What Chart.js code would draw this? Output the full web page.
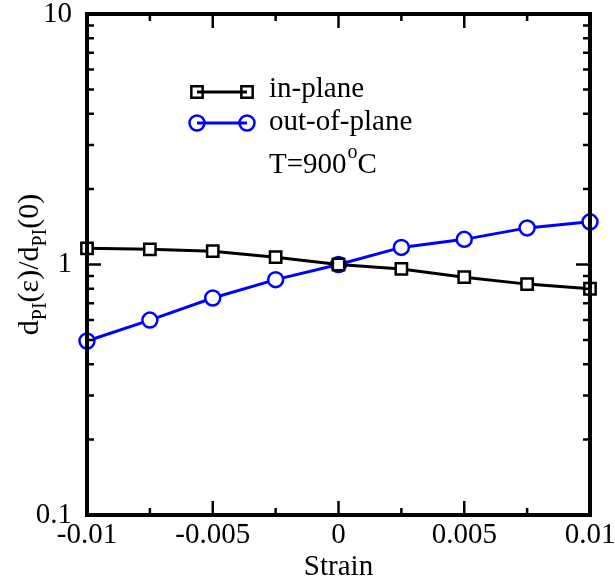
<!DOCTYPE html>
<html>
<head>
<meta charset="utf-8">
<script src="https://cdn.jsdelivr.net/npm/chart.js@4.4.1/dist/chart.umd.min.js"></script>
<style>
  html, body { margin: 0; padding: 0; background: #fff; }
  #graph { display: block; }
</style>
</head>
<body>
<canvas id="graph" width="615" height="579"></canvas>
<script>
var strain = [-0.01, -0.0075, -0.005, -0.0025, 0, 0.0025, 0.005, 0.0075, 0.01];
var inPlane = [1.16, 1.15, 1.13, 1.07, 1.0, 0.96, 0.89, 0.835, 0.80];
var outOfPlane = [0.495, 0.60, 0.735, 0.87, 1.0, 1.17, 1.26, 1.40, 1.48];

var xTickLabels = ["-0.01", "-0.005", "0", "0.005", "0.01"];
var xMajor = [-0.01, -0.005, 0, 0.005, 0.01];
var xMinor = [-0.0075, -0.0025, 0.0025, 0.0075];
var yTickLabels = ["0.1", "1", "10"];
var yMajor = [0.1, 1, 10];
var yMinor = [0.2, 0.3, 0.4, 0.5, 0.6, 0.7, 0.8, 0.9, 2, 3, 4, 5, 6, 7, 8, 9];

var serif = "'Liberation Serif', 'Times New Roman', serif";

function toPoints(ys) {
  return strain.map(function (x, i) { return { x: x, y: ys[i] }; });
}

// frame, inward ticks, labels and legend drawn straight on the canvas
var framePlugin = {
  id: "frame",
  afterDraw: function (chart) {
    var ctx = chart.ctx;
    var a = chart.chartArea;
    var xs = chart.scales.x;
    var ys = chart.scales.y;

    ctx.save();
    ctx.strokeStyle = "#000";
    ctx.lineWidth = 2.5;
    ctx.beginPath();
    yMajor.forEach(function (v) {
      var p = ys.getPixelForValue(v);
      ctx.moveTo(a.left, p); ctx.lineTo(a.left + 14, p);
      ctx.moveTo(a.right, p); ctx.lineTo(a.right - 14, p);
    });
    yMinor.forEach(function (v) {
      var p = ys.getPixelForValue(v);
      ctx.moveTo(a.left, p); ctx.lineTo(a.left + 7, p);
      ctx.moveTo(a.right, p); ctx.lineTo(a.right - 7, p);
    });
    xMajor.forEach(function (v) {
      var p = xs.getPixelForValue(v);
      ctx.moveTo(p, a.bottom); ctx.lineTo(p, a.bottom - 14);
      ctx.moveTo(p, a.top); ctx.lineTo(p, a.top + 14);
    });
    xMinor.forEach(function (v) {
      var p = xs.getPixelForValue(v);
      ctx.moveTo(p, a.bottom); ctx.lineTo(p, a.bottom - 7);
      ctx.moveTo(p, a.top); ctx.lineTo(p, a.top + 7);
    });
    ctx.stroke();

    ctx.lineWidth = 4;
    ctx.strokeRect(a.left, a.top, a.right - a.left, a.bottom - a.top);

    // tick labels
    ctx.fillStyle = "#000";
    ctx.font = "29px " + serif;
    ctx.textAlign = "right";
    ctx.textBaseline = "middle";
    yMajor.forEach(function (v, i) {
      ctx.fillText(yTickLabels[i], a.left - 15, ys.getPixelForValue(v));
    });
    ctx.textAlign = "center";
    ctx.textBaseline = "top";
    xMajor.forEach(function (v, i) {
      ctx.fillText(xTickLabels[i], xs.getPixelForValue(v), a.bottom + 6);
    });

    // axis titles
    ctx.font = "29px " + serif;
    ctx.fillText("Strain", (a.left + a.right) / 2, a.bottom + 38);

    ctx.save();
    ctx.translate(38, (a.top + a.bottom) / 2);
    ctx.rotate(-Math.PI / 2);
    var parts = [
      ["d", false], ["PI", true], ["(\u03b5)/d", false], ["PI", true], ["(0)", false]
    ];
    var big = "30px " + serif, small = "20px " + serif;
    var w = 0;
    parts.forEach(function (p) {
      ctx.font = p[1] ? small : big;
      w += ctx.measureText(p[0]).width;
    });
    var cx = -w / 2;
    ctx.textAlign = "left";
    ctx.textBaseline = "alphabetic";
    parts.forEach(function (p) {
      ctx.font = p[1] ? small : big;
      ctx.fillText(p[0], cx, p[1] ? 8 : 0);
      cx += ctx.measureText(p[0]).width;
    });
    ctx.restore();

    // legend
    var sets = chart.data.datasets;
    var ly = [92, 123];
    var lb = [97, 130];
    sets.forEach(function (ds, i) {
      ctx.strokeStyle = ds.borderColor;
      ctx.lineWidth = 3;
      ctx.beginPath();
      ctx.moveTo(197, ly[i]); ctx.lineTo(247, ly[i]);
      ctx.stroke();
      ctx.lineWidth = ds.pointBorderWidth;
      ctx.fillStyle = "rgba(0,0,0,0)";
      [197, 247].forEach(function (px) {
        Chart.helpers.drawPoint(ctx, {
          pointStyle: ds.pointStyle, radius: ds.pointRadius, rotation: 0, borderWidth: ds.pointBorderWidth
        }, px, ly[i]);
      });
      ctx.fillStyle = "#000";
      ctx.font = "29px " + serif;
      ctx.textAlign = "left";
      ctx.textBaseline = "alphabetic";
      ctx.fillText(ds.label, 269, lb[i]);
    });
    ctx.font = "29px " + serif;
    ctx.fillText("T=900", 269, 173);
    var tw = ctx.measureText("T=900").width;
    ctx.font = "20px " + serif;
    ctx.fillText("o", 269 + tw + 1, 158);
    var ow = ctx.measureText("o").width;
    ctx.font = "29px " + serif;
    ctx.fillText("C", 269 + tw + ow + 1, 173);

    ctx.restore();
  }
};

new Chart(document.getElementById("graph").getContext("2d"), {
  type: "line",
  data: {
    datasets: [{
      label: "in-plane",
      data: toPoints(inPlane),
      borderColor: "#000",
      borderWidth: 3,
      pointStyle: "rect",
      pointRadius: 8,
      pointBorderWidth: 2.5,
      pointBackgroundColor: "#fff",
      pointBorderColor: "#000"
    }, {
      label: "out-of-plane",
      data: toPoints(outOfPlane),
      borderColor: "#0000ff",
      borderWidth: 3,
      pointStyle: "circle",
      pointRadius: 7.5,
      pointBorderWidth: 2.5,
      pointBackgroundColor: "#fff",
      pointBorderColor: "#0000ff"
    }]
  },
  options: {
    responsive: false,
    animation: false,
    layout: { padding: { left: 87, top: 14, right: 25, bottom: 64 } },
    plugins: { legend: { display: false }, tooltip: { enabled: false } },
    scales: {
      x: { type: "linear", min: -0.01, max: 0.01, display: false },
      y: { type: "logarithmic", min: 0.1, max: 10, display: false }
    },
    elements: { line: { tension: 0 } },
    clip: false
  },
  plugins: [framePlugin]
});
</script>
</body>
</html>
